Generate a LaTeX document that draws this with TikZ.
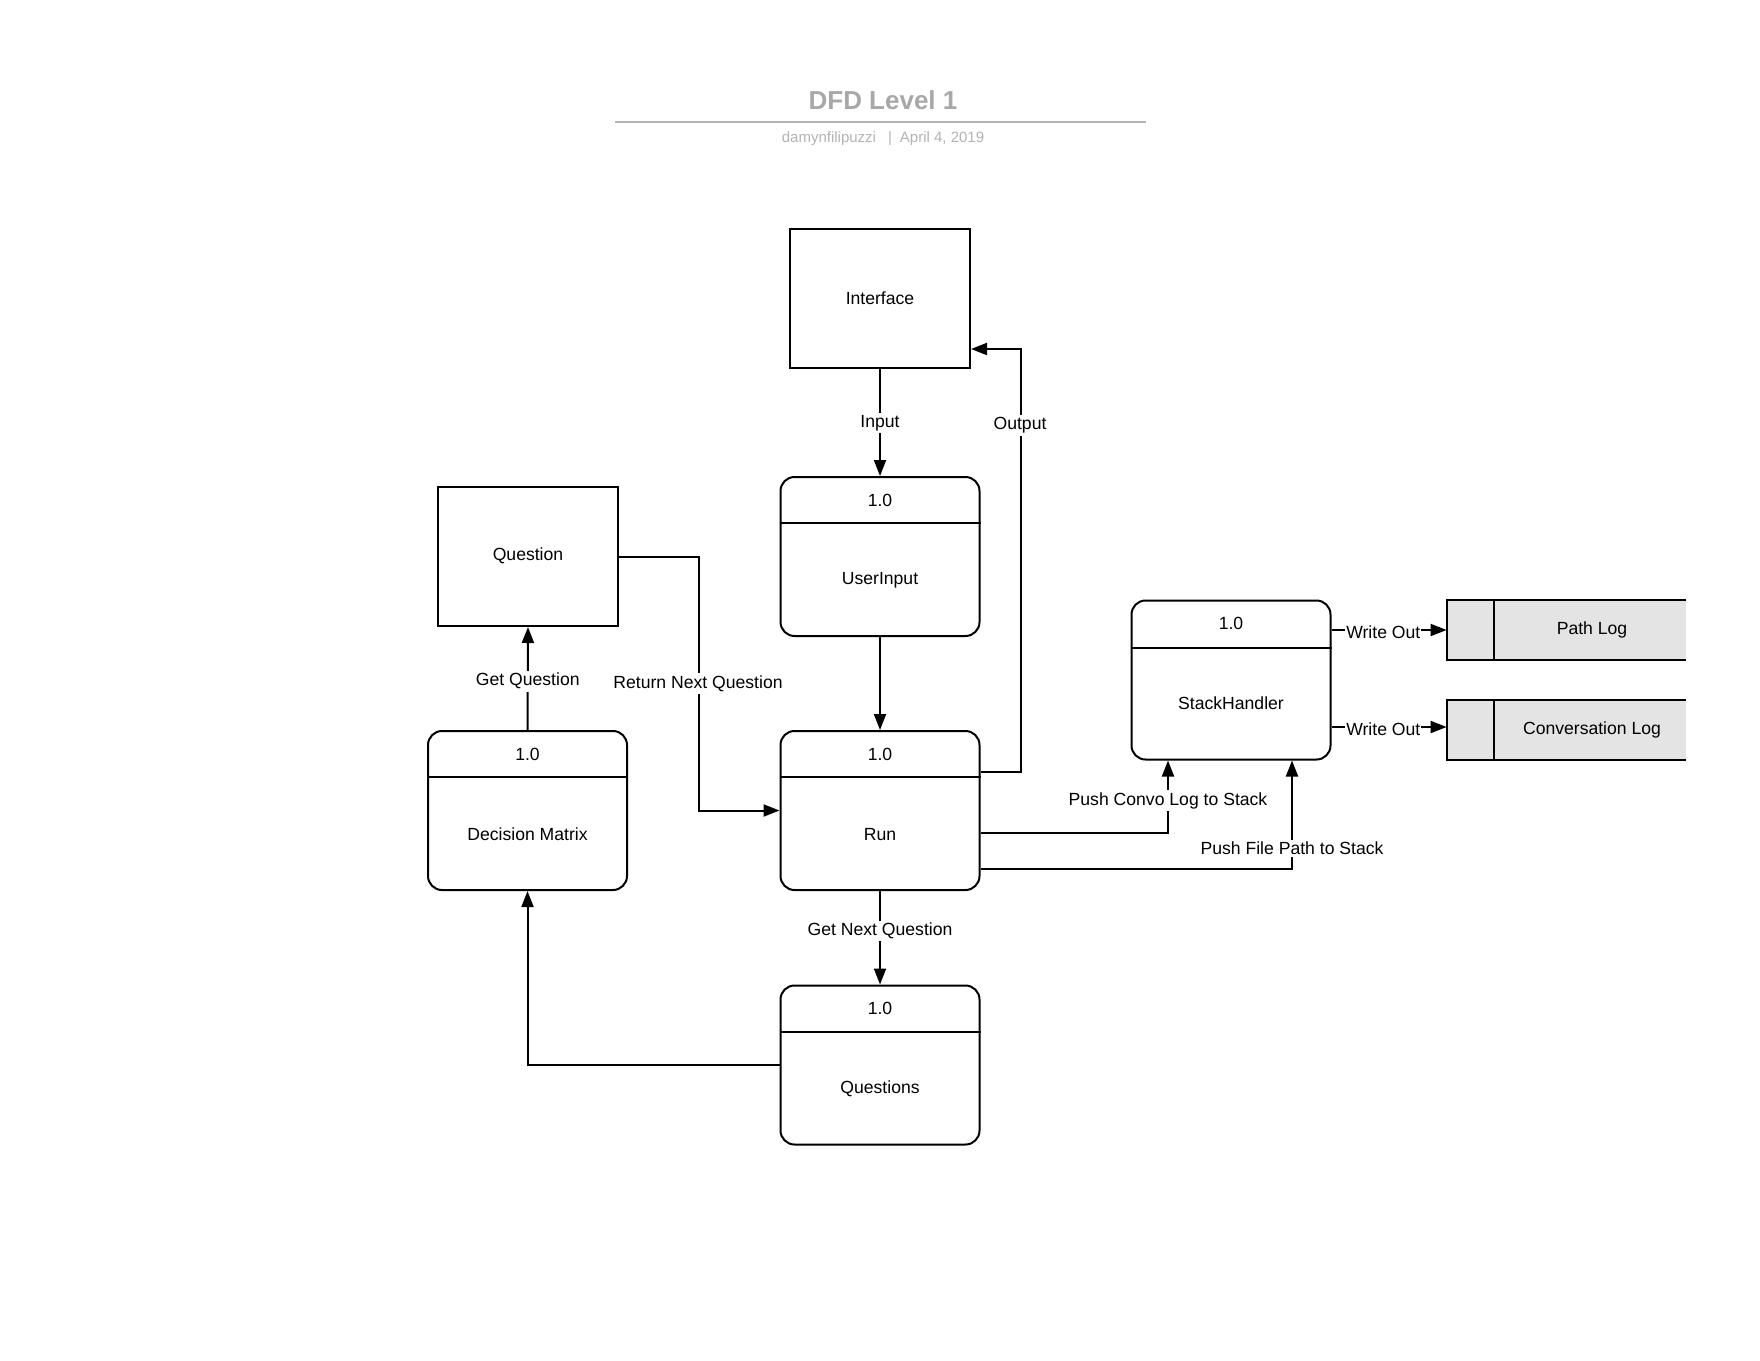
\documentclass[tikz,border=0pt]{standalone}
\usepackage{fontspec}
\setmainfont{Liberation Sans}
\usetikzlibrary{arrows.meta,calc}
\definecolor{titlegray}{HTML}{A8A8A8}
\definecolor{subgray}{HTML}{B4B4B4}
\definecolor{storegray}{HTML}{E4E4E4}
\begin{document}
\begin{tikzpicture}[x=0.5pt,y=-0.5pt,
  every node/.style={font=\fontsize{8.8pt}{10pt}\selectfont},
  box/.style={draw, line width=1pt, rectangle, inner sep=0pt, minimum width=90pt, minimum height=69.5pt},
  proc/.style={draw, line width=1pt, rectangle, rounded corners=7pt, inner sep=0pt, minimum width=99.5pt, minimum height=79.5pt},
  store/.style={fill=storegray, draw=none, rectangle, inner sep=0pt, minimum width=119.5pt, minimum height=30pt},
  divider/.style={line width=1pt},
  flow/.style={line width=1pt, -{Triangle[length=8pt,width=6pt]}},
  lbl/.style={fill=white, inner sep=1.2pt, yshift=-1.3pt},
  txt/.style={inner sep=0pt, yshift=-1.3pt}
]
\fill[white] (0,0) rectangle (1760,1360);
\useasboundingbox (0,0) rectangle (1760,1360);

% title block
\node[inner sep=0pt, font=\bfseries\fontsize{13pt}{15pt}\selectfont, text=titlegray] (title) at (883,100) {DFD Level 1};
\coordinate (tl) at (615,122);
\coordinate (tr) at (1146,122);
\draw[subgray, line width=1pt] (tl) -- (tr);
\node[txt, font=\fontsize{7.5pt}{9pt}\selectfont, text=subgray] (subtitle) at (883,136) {damynfilipuzzi\hspace{6pt}|\hspace{4pt}April 4, 2019};

% external entities
\node[box] (interface) at (880,298.5) {};
\node[txt] (interface-lbl) at (880,296) {Interface};
\node[box] (question) at (528,556.5) {};
\node[txt] (question-lbl) at (528,553) {Question};

% processes
\node[proc] (userinput) at (880,556.5) {};
\draw[divider] ([yshift=-23.5pt]userinput.north west) -- ([yshift=-23.5pt]userinput.north east);
\node[txt] (userinput-id) at (880,498) {1.0};
\node[txt] (userinput-lbl) at (880,578) {UserInput};

\node[proc] (run) at (880,810.5) {};
\draw[divider] ([yshift=-23.5pt]run.north west) -- ([yshift=-23.5pt]run.north east);
\node[txt] (run-id) at (880,752) {1.0};
\node[txt] (run-lbl) at (880,832) {Run};

\node[proc] (questions) at (880,1065) {};
\draw[divider] ([yshift=-23.5pt]questions.north west) -- ([yshift=-23.5pt]questions.north east);
\node[txt] (questions-id) at (880,1006) {1.0};
\node[txt] (questions-lbl) at (880,1086) {Questions};

\node[proc] (decision) at (527.5,810.5) {};
\draw[divider] ([yshift=-23.5pt]decision.north west) -- ([yshift=-23.5pt]decision.north east);
\node[txt] (decision-id) at (527.5,752) {1.0};
\node[txt] (decision-lbl) at (527.5,832) {Decision Matrix};

\node[proc] (stack) at (1231,680) {};
\draw[divider] ([yshift=-24pt]stack.north west) -- ([yshift=-24pt]stack.north east);
\node[txt] (stack-id) at (1231,621) {1.0};
\node[txt] (stack-lbl) at (1231,701) {StackHandler};

% data stores
\node[store] (pathlog) at (1566.5,630) {};
\draw[divider] (pathlog.north east) -- (pathlog.north west) -- (pathlog.south west) -- (pathlog.south east);
\draw[divider] ([xshift=23.5pt]pathlog.north west) -- ([xshift=23.5pt]pathlog.south west);
\node[txt] (pathlog-lbl) at (1592,627) {Path Log};

\node[store] (convlog) at (1566.5,730) {};
\draw[divider] (convlog.north east) -- (convlog.north west) -- (convlog.south west) -- (convlog.south east);
\draw[divider] ([xshift=23.5pt]convlog.north west) -- ([xshift=23.5pt]convlog.south west);
\node[txt] (convlog-lbl) at (1592,727) {Conversation Log};

% connectors
\draw[flow] (interface.south) -- node[lbl, pos=0.48] {Input} (userinput.north);
\draw[flow] (userinput.south) -- (run.north);

\draw[flow] ([yshift=-21pt]run.north east) -- ++(40,0) |- ([yshift=10pt]interface.south east);
\node[lbl] (output-lbl) at (1020,423) {Output};

\draw[flow] (question.east) -| ($(question.east)!0.5!(run.west)$) |- (run.west);
\node[lbl] (rnq-lbl) at (698,681) {Return Next Question};

\draw[flow] (decision.north) -- node[lbl, pos=0.5] {Get Question} (question.south);
\draw[flow] (run.south) -- node[lbl, pos=0.4] {Get Next Question} (questions.north);
\draw[flow] (questions.west) -| (decision.south);

\draw[flow] ([yshift=-11.25pt]run.east) -| ([xshift=-31.5pt]stack.south);
\node[lbl] (pcl-lbl) at (1168,798) {Push Convo Log to Stack};
\draw[flow] ([yshift=-29.25pt]run.east) -| ([xshift=30.5pt]stack.south);
\node[lbl] (pfp-lbl) at (1292,846) {Push File Path to Stack};

\draw[flow] (stack.east |- pathlog.west) -- node[lbl, pos=0.45, inner sep=0.5pt] {Write Out} (pathlog.west);
\draw[flow] (stack.east |- 0,727) -- node[lbl, pos=0.45, inner sep=0.5pt] {Write Out} (convlog.west |- 0,727);
\end{tikzpicture}
\end{document}
